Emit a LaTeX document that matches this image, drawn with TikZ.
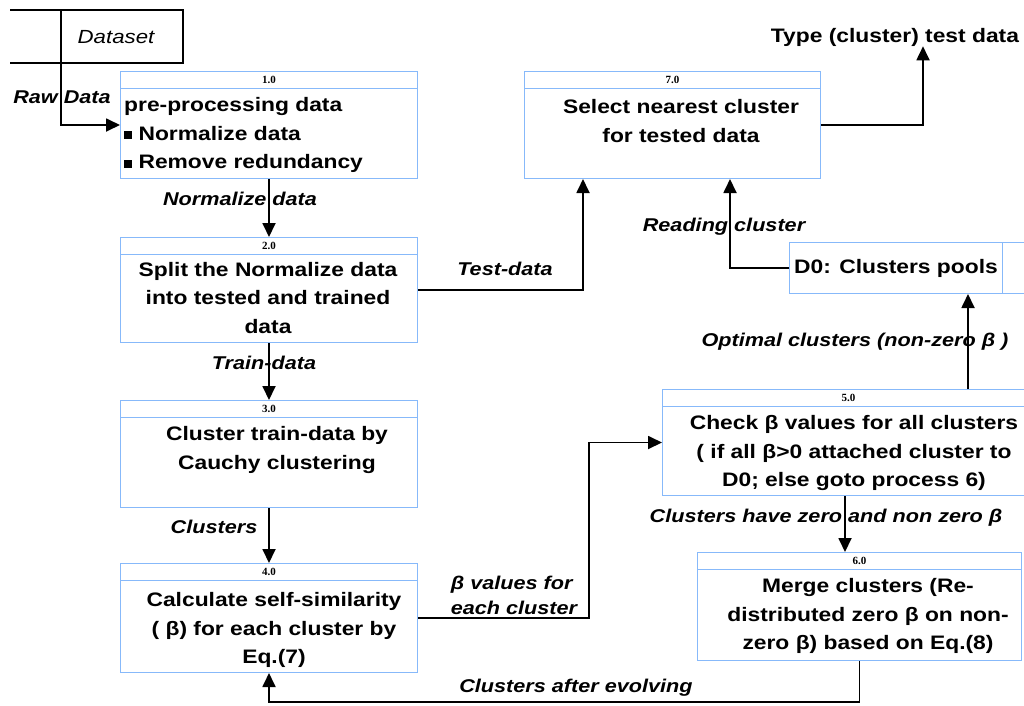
\documentclass[tikz,border=0pt]{standalone}
\usepackage{fontspec}
\setmainfont{Liberation Sans}[FakeStretch=1.17]
\newfontfamily\numfont{Liberation Serif}
\usetikzlibrary{arrows.meta,calc,positioning}

\definecolor{procblue}{RGB}{135,185,250}

\begin{document}
\begin{tikzpicture}[x=1pt,y=-1pt,
    proc/.style={draw=procblue,line width=1pt,rectangle,anchor=north west,inner sep=0pt},
    procline/.style={draw=procblue,line width=1pt},
    pnum/.style={font=\numfont\bfseries\fontsize{11}{12}\selectfont,inner sep=0pt},
    body/.style={font=\bfseries\fontsize{19.5}{28.5}\selectfont,align=center,inner sep=0pt},
    lbl/.style={font=\bfseries\itshape\fontsize{18.5}{25}\selectfont,inner sep=0pt},
    flow/.style={line width=1.8pt,-{Triangle[length=14pt,width=13pt]}},
    edge/.style={line width=1.5pt}]
  \useasboundingbox (0,0) rectangle (1024,705);

  % data store for the input
  \draw[edge] (10,10) -- (183,10) -- (183,63) -- (10,63);
  \draw[edge] (61,10) -- (61,63);
  \coordinate (dsout) at (61,63);
  \node[inner sep=0pt,font=\itshape\fontsize{19}{20}\selectfont] (ds) at (116,37) {Dataset};

  % the processes
  \node[proc,minimum width=297,minimum height=107] (p1) at (120,71) {};
  \node[proc,minimum width=297,minimum height=105] (p2) at (120,237) {};
  \node[proc,minimum width=297,minimum height=107] (p3) at (120,400) {};
  \node[proc,minimum width=297,minimum height=109] (p4) at (120,563) {};
  \node[proc,minimum width=296,minimum height=107] (p7) at (524,71) {};
  \node[proc,minimum width=372,minimum height=106] (p5) at (662,389) {};
  \node[proc,minimum width=324,minimum height=108] (p6) at (697,552) {};

  \foreach \b/\n in {p1/1.0,p2/2.0,p3/3.0,p4/4.0,p7/7.0,p5/5.0,p6/6.0} {
    \draw[procline] ([yshift=-17pt]\b.north west) -- ([yshift=-17pt]\b.north east);
    \node[pnum] at ([yshift=-9pt]\b.north) {\n};
  }

  \node[body,align=left,anchor=west] (t1) at (124,135)
    {pre-processing data\\ \raisebox{1pt}{\rule{8pt}{8pt}} Normalize data\\ \raisebox{1pt}{\rule{8pt}{8pt}} Remove redundancy};
  \node[body] (t2) at (268,298) {Split the Normalize data\\ into tested and trained\\ data};
  \node[body] (t3) at (277,450) {Cluster train-data by\\ Cauchy clustering};
  \node[body] (t4) at (274,630) {Calculate self-similarity\\ ( β) for each cluster by\\ Eq.(7)};
  \node[body] (t7) at (681,121) {Select nearest cluster\\ for tested data};
  \node[body] (t5) at (854,453) {Check β values for all clusters\\ ( if all β>0 attached cluster to\\ D0; else goto process 6)};
  \node[body] (t6) at (868,616) {Merge clusters (Re-\\ distributed zero β on non-\\ zero β) based on Eq.(8)};

  % cluster pool store
  \node[proc,minimum width=245,minimum height=51] (d0) at (789,242) {};
  \draw[procline] (1002,242) -- (1002,293);
  \node[body] (d0t) at (896,268) {D0: Clusters pools};

  \node[body] (out) at (895,37) {Type (cluster) test data};

  % helper coordinates for the bends
  \coordinate (c27) at (583,0);
  \coordinate (c70) at (923,0);
  \coordinate (cd0) at (730,0);
  \coordinate (c45) at (589,0);
  \coordinate (c5d) at (968,0);
  \coordinate (c56) at (845,0);
  \coordinate (c64) at (0,702);

  % flows
  \draw[flow] (dsout) |- (p1.west);
  \draw[flow] (p1.south) -- (p2.north);
  \draw[flow] (p2.south) -- (p3.north);
  \draw[flow] (p3.south) -- (p4.north);
  \draw[flow] (p2.east) -| (c27 |- p7.south);
  \draw[flow] (p7.east) -| (c70 |- out.south);
  \draw[flow] (d0.west) -| (cd0 |- p7.south);
  \draw[flow] (p4.east) -| (c45 |- p5.west) -- (p5.west);
  \draw[flow] (c5d |- p5.north) -- (c5d |- d0.south);
  \draw[flow] (c56 |- p5.south) -- (c56 |- p6.north);
  \draw[flow] (p6.south) -- (p6.south |- c64) -| (p4.south);

  % flow labels
  \node[lbl] (l0) at (62,97) {Raw Data};
  \node[lbl] (l12) at (240,199) {Normalize data};
  \node[lbl] (l23) at (264,363) {Train-data};
  \node[lbl] (l34) at (214,527) {Clusters};
  \node[lbl] (l27) at (505,269) {Test-data};
  \node[lbl] (ld0) at (724,227) {Reading cluster};
  \node[lbl] (l5d) at (855,342) {Optimal clusters (non-zero β )};
  \node[lbl] (l56) at (826,518) {Clusters have zero and non zero β};
  \node[lbl,align=left] (l45) at (514,595) {β values for\\ each cluster};
  \node[lbl] (l64) at (576,688) {Clusters after evolving};
\end{tikzpicture}
\end{document}
